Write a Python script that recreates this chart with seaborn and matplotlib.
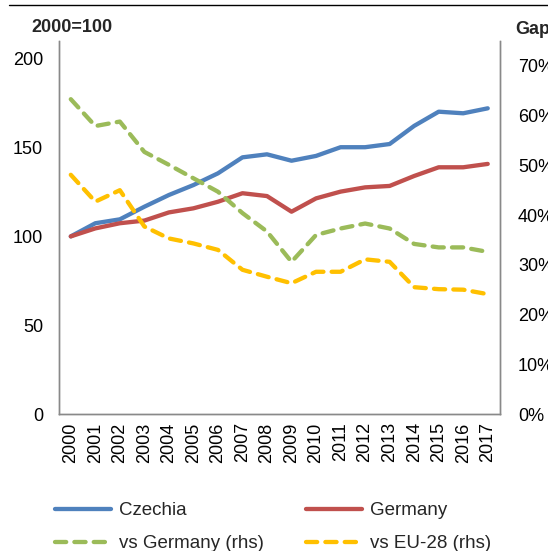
import matplotlib
matplotlib.use("Agg")
import matplotlib.pyplot as plt
from matplotlib.lines import Line2D
from matplotlib.ticker import PercentFormatter
import pandas as pd
import seaborn as sns

# data
years = list(range(2000, 2018))
czechia = [100, 107.4, 109.6, 116.7, 123.3, 128.9, 135.5, 144.5, 146.2, 142.6,
           145.3, 150.2, 150.2, 152.0, 162.2, 170.2, 169.3, 172.1]
germany = [100, 104.5, 107.4, 108.9, 113.5, 115.8, 119.5, 124.3, 122.7, 113.9,
           121.4, 125.2, 127.6, 128.4, 134.0, 138.9, 138.9, 140.8]
gap_vs_germany = [0.633, 0.579, 0.588, 0.527, 0.501, 0.474, 0.447, 0.404, 0.367, 0.306,
                  0.360, 0.373, 0.383, 0.373, 0.342, 0.335, 0.335, 0.326]
gap_vs_eu28 = [0.481, 0.427, 0.450, 0.377, 0.353, 0.343, 0.330, 0.290, 0.276, 0.263,
               0.286, 0.286, 0.311, 0.306, 0.255, 0.251, 0.250, 0.241]

df = pd.DataFrame({"year": years, "Czechia": czechia, "Germany": germany,
                   "vs Germany (rhs)": gap_vs_germany, "vs EU-28 (rhs)": gap_vs_eu28})

sns.set_style("white")
plt.rcParams["font.family"] = ["Liberation Sans", "DejaVu Sans"]
plt.rcParams["font.size"] = 13

fig = plt.figure(figsize=(5.48, 5.51), dpi=100)
ax = fig.add_axes([0.1068, 0.2486, 0.8056, 0.677])
ax2 = ax.twinx()

blue, red, green, yellow = "#4F81BD", "#C0504D", "#9BBB59", "#FFC000"
grey = "#898989"

sns.lineplot(data=df, x="year", y="Czechia", ax=ax, color=blue, lw=3.1, label="Czechia", legend=False)
sns.lineplot(data=df, x="year", y="Germany", ax=ax, color=red, lw=3.1, label="Germany", legend=False)
dash = (0, (2.6, 1.9))
sns.lineplot(data=df, x="year", y="vs Germany (rhs)", ax=ax2, color=green, lw=3.1,
             linestyle=dash, dash_capstyle="round", label="vs Germany (rhs)", legend=False)
sns.lineplot(data=df, x="year", y="vs EU-28 (rhs)", ax=ax2, color=yellow, lw=3.1,
             linestyle=dash, dash_capstyle="round", label="vs EU-28 (rhs)", legend=False)

ax.set_xlim(1999.5, 2017.5)
ax.set_ylim(0, 210)
ax.set_yticks(range(0, 201, 50))
ax2.set_ylim(0, 0.75)
ax2.set_yticks([i / 10 for i in range(8)])
ax2.yaxis.set_major_formatter(PercentFormatter(1.0, decimals=0))
ax.set_xticks(years)
ax.set_xticklabels([str(y) for y in years], rotation=90)

for a in (ax, ax2):
    a.set_xlabel("")
    a.set_ylabel("")
    a.spines["top"].set_visible(False)
    for s in ("left", "right", "bottom"):
        a.spines[s].set_color(grey)
        a.spines[s].set_linewidth(1.0)
    a.tick_params(length=0, labelsize=13, colors="black")
ax.tick_params(axis="y", pad=11)
ax.tick_params(axis="x", pad=6)
ax2.tick_params(axis="y", pad=13)

# axis titles
fig.text(31 / 548, 1 - 28 / 551, "2000=100", fontsize=13, fontweight="bold", va="center", ha="left")
fig.text(515 / 548, 1 - 29 / 551, "Gap", fontsize=13, fontweight="bold", va="center", ha="left")

# thin rule at the very top
fig.add_artist(Line2D([9 / 548, 1], [1 - 4.5 / 551, 1 - 4.5 / 551], color="black", lw=1.0))

h1, l1 = ax.get_legend_handles_labels()
h2, l2 = ax2.get_legend_handles_labels()
# column-major order so rows read: Czechia, Germany / vs Germany, vs EU-28
handles = [h1[0], h2[0], h1[1], h2[1]]
labels = [l1[0], l2[0], l1[1], l2[1]]
fig.legend(handles, labels, ncol=2, loc="upper left", bbox_to_anchor=(55 / 548, 1 - 502 / 551),
           frameon=False, borderpad=0, borderaxespad=0, handlelength=3.0, handletextpad=0.4,
           columnspacing=2.25, labelspacing=0.86, fontsize=13.5)

fig.savefig("out.png", dpi=100)
